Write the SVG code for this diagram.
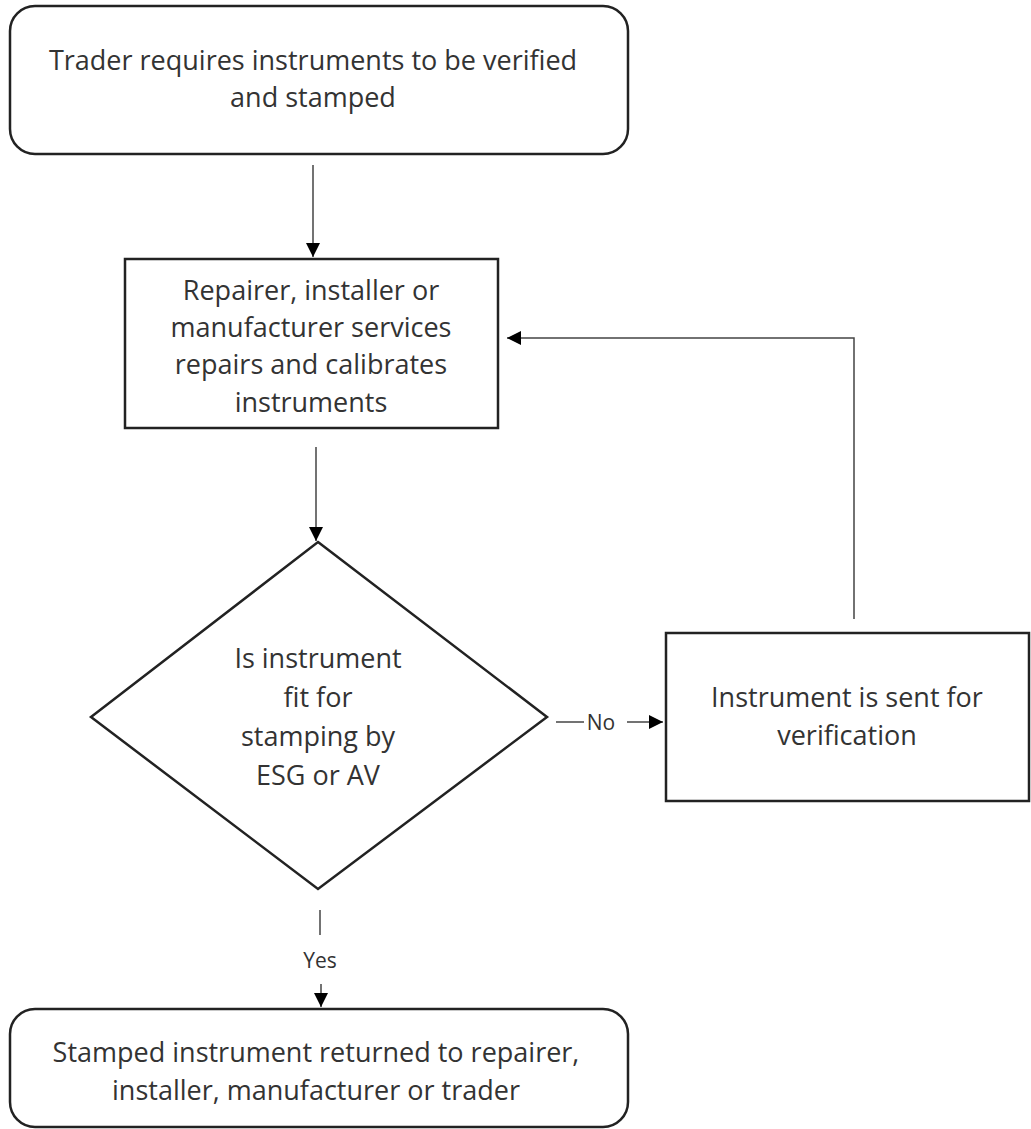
<svg xmlns="http://www.w3.org/2000/svg" width="1031" height="1129" viewBox="0 0 1031 1129">
<style>
.box{fill:#fff;stroke:#222;stroke-width:2.5}
.t{font-family:"Open Sans","Liberation Sans",Arial,sans-serif;font-size:27px;fill:#333;text-anchor:middle}
.lbl{font-family:"Open Sans","Liberation Sans",Arial,sans-serif;font-size:21px;fill:#333;text-anchor:middle}
.c{fill:none;stroke:#444;stroke-width:1.5}
</style>
<defs>
<marker id="ah" viewBox="0 0 10 10" refX="10" refY="5" markerWidth="14" markerHeight="14" markerUnits="userSpaceOnUse" orient="auto">
<path d="M0,0 L10,5 L0,10 z" fill="#000"/>
</marker>
</defs>
<g id="connectors">
<line class="c" x1="313" y1="165" x2="313" y2="257" marker-end="url(#ah)"/>
<line class="c" x1="316" y1="447" x2="316" y2="541" marker-end="url(#ah)"/>
<polyline class="c" points="854,619 854,338 507,338" marker-end="url(#ah)"/>
<line class="c" x1="556" y1="722" x2="584" y2="722"/>
<text class="lbl" x="601" y="730">No</text>
<line class="c" x1="627" y1="722" x2="663" y2="722" marker-end="url(#ah)"/>
<line class="c" x1="320" y1="910" x2="320" y2="935"/>
<text class="lbl" x="320" y="968">Yes</text>
<line class="c" x1="321" y1="984" x2="321" y2="1007" marker-end="url(#ah)"/>
</g>
<g id="n1">
<rect class="box" x="10" y="6" width="618" height="148" rx="25"/>
<text class="t" x="313" y="70">Trader requires instruments to be verified</text>
<text class="t" x="313" y="107">and stamped</text>
</g>
<g id="n2">
<rect class="box" x="125" y="259" width="373" height="169"/>
<text class="t" x="311" y="300">Repairer, installer or</text>
<text class="t" x="311" y="337">manufacturer services</text>
<text class="t" x="311" y="374">repairs and calibrates</text>
<text class="t" x="311" y="412">instruments</text>
</g>
<g id="n3">
<polygon class="box" points="318,542 547,717 318,889 91,717"/>
<text class="t" x="318" y="668">Is instrument</text>
<text class="t" x="318" y="707">fit for</text>
<text class="t" x="318" y="746">stamping by</text>
<text class="t" x="318" y="785">ESG or AV</text>
</g>
<g id="n4">
<rect class="box" x="666" y="633" width="363" height="168"/>
<text class="t" x="847" y="707">Instrument is sent for</text>
<text class="t" x="847" y="745">verification</text>
</g>
<g id="n5">
<rect class="box" x="10" y="1009" width="618" height="118" rx="25"/>
<text class="t" x="316" y="1062">Stamped instrument returned to repairer,</text>
<text class="t" x="316" y="1100">installer, manufacturer or trader</text>
</g>
</svg>
